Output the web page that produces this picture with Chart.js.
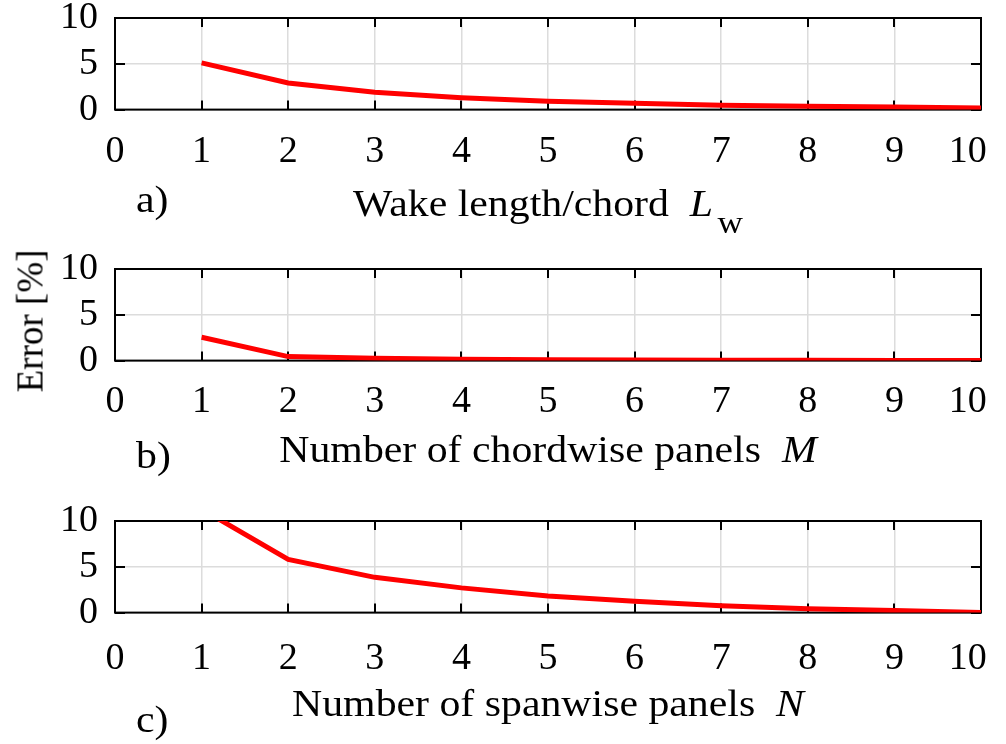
<!DOCTYPE html>
<html>
<head>
<meta charset="utf-8">
<title>Convergence of error</title>
<script src="https://cdn.jsdelivr.net/npm/chart.js@4.4.1/dist/chart.umd.min.js"></script>
<style>
  html, body { margin: 0; padding: 0; background: #fff; overflow: hidden; }
  body { width: 1006px; height: 744px; position: relative; }
  .panel { position: absolute; left: 0; width: 1006px; height: 252px; }
  #ylabel {
    position: absolute; left: 30px; top: 321px;
    transform: translate(-50%, -50%) rotate(-90deg);
    font: 37px 'Liberation Serif', 'Times New Roman', serif;
    white-space: nowrap; color: #000;
  }
</style>
</head>
<body>
<div class="panel" style="top:-6px"><canvas id="chart-a" width="1006" height="252"></canvas></div>
<div class="panel" style="top:245px"><canvas id="chart-b" width="1006" height="252"></canvas></div>
<div class="panel" style="top:497px"><canvas id="chart-c" width="1006" height="252"></canvas></div>
<div id="ylabel">Error [%]</div>
<script>
// tick labels shared by all three panels
const xTicks = [0, 1, 2, 3, 4, 5, 6, 7, 8, 9, 10];
const yTicks = [0, 5, 10];

// a) wake length / chord
const wakeLength = [1, 2, 3, 4, 5, 6, 7, 8, 9, 10];
const wakeError = [5.1, 2.9, 1.9, 1.3, 0.9, 0.68, 0.47, 0.36, 0.28, 0.17];

// b) chordwise panels
const chordPanels = [1, 2, 3, 4, 5, 6, 7, 8, 9, 10];
const chordError = [2.55, 0.44, 0.25, 0.15, 0.1, 0.07, 0.05, 0.03, 0.02, 0.01];

// c) spanwise panels (first point sits above the axis limit)
const spanPanels = [1, 2, 3, 4, 5, 6, 7, 8, 9, 10];
const spanError = [11.3, 5.8, 3.85, 2.7, 1.8, 1.25, 0.75, 0.42, 0.22, 0.0];

const FONT = "'Liberation Serif', 'Times New Roman', serif";
const CANVAS_H = 252;
const PLOT_TOP = 24;
const PLOT_H = 91.6;

// box outline, inward tick marks, axis caption and panel letter
const framePlugin = {
  id: 'frame',
  beforeDatasetsDraw(chart) {
    const { ctx, chartArea: a, scales: { x, y } } = chart;
    ctx.save();
    ctx.strokeStyle = '#000';
    ctx.lineWidth = 2;
    ctx.beginPath();
    x.ticks.forEach(t => {
      const px = Math.round(x.getPixelForValue(t.value));
      ctx.moveTo(px, a.top); ctx.lineTo(px, a.top + 9);
      ctx.moveTo(px, a.bottom); ctx.lineTo(px, a.bottom - 9);
    });
    y.ticks.forEach(t => {
      const py = Math.round(y.getPixelForValue(t.value));
      ctx.moveTo(a.left, py); ctx.lineTo(a.left + 10, py);
      ctx.moveTo(a.right, py); ctx.lineTo(a.right - 10, py);
    });
    ctx.stroke();
    ctx.strokeRect(a.left, a.top, a.right - a.left, a.bottom - a.top);
    ctx.restore();
  },
  afterDraw(chart, args, opts) {
    const { ctx, chartArea: a } = chart;
    const stretch = 1.1;
    ctx.save();
    ctx.fillStyle = '#000';
    ctx.textBaseline = 'alphabetic';

    // measure the caption pieces first so the whole line can be centred
    const pieces = opts.parts.map(p => {
      ctx.font = (p.italic ? 'italic ' : '') + (p.sub ? '32px ' : '38px ') + FONT;
      return { ...p, font: ctx.font, w: ctx.measureText(p.text).width + (p.sub ? 4 : 0) };
    });
    const total = pieces.reduce((s, p) => s + p.w, 0) * stretch;
    const cx = (a.left + a.right) / 2;
    const base = a.bottom + opts.titleOffset;
    ctx.translate(cx - total / 2, base);
    ctx.scale(stretch, 1);
    let dx = 0;
    pieces.forEach(p => {
      ctx.font = p.font;
      ctx.fillText(p.text, dx + (p.sub ? 4 : 0), p.sub ? 17 : 0);
      dx += p.w;
    });
    ctx.restore();

    ctx.save();
    ctx.fillStyle = '#000';
    ctx.font = '38px ' + FONT;
    ctx.translate(136, a.bottom + opts.letterOffset);
    ctx.scale(stretch, 1);
    ctx.fillText(opts.letter, 0, 0);
    ctx.restore();
  }
};

function makeChart(id, xs, ys, caption) {
  const points = xs.map((v, i) => ({ x: v, y: ys[i] }));
  return new Chart(document.getElementById(id), {
    type: 'line',
    data: {
      datasets: [{
        data: points,
        borderColor: '#ff0000',
        borderWidth: 5,
        pointRadius: 0,
        tension: 0,
        fill: false
      }]
    },
    options: {
      responsive: false,
      animation: false,
      events: [],
      layout: { padding: { top: PLOT_TOP, right: 25, left: 0, bottom: 0 } },
      plugins: {
        legend: { display: false },
        tooltip: { enabled: false },
        frame: caption
      },
      scales: {
        x: {
          type: 'linear',
          min: 0,
          max: 10,
          afterBuildTicks: s => { s.ticks = xTicks.map(v => ({ value: v })); },
          afterFit: s => {
            s.height = CANVAS_H - PLOT_TOP - PLOT_H;
            s.paddingLeft = 0;
            s.paddingRight = 0;
          },
          grid: { color: '#dcdcdc', lineWidth: 1.5, drawTicks: false },
          border: { display: false },
          ticks: {
            color: '#000',
            padding: caption.tickPad,
            autoSkip: false,
            maxRotation: 0,
            // keep the last label inside the figure edge
            callback: (v, i, ticks) => i === ticks.length - 1 ? v + '\u2002\u2009' : String(v),
            font: { family: FONT, size: 38, lineHeight: 1 }
          }
        },
        y: {
          type: 'linear',
          min: 0,
          max: 10,
          afterBuildTicks: s => { s.ticks = yTicks.map(v => ({ value: v })); },
          afterFit: s => {
            s.width = 115;
            s.paddingTop = 0;
            s.paddingBottom = 0;
          },
          grid: { color: '#dcdcdc', lineWidth: 1.5, drawTicks: false },
          border: { display: false },
          ticks: {
            color: '#000',
            padding: 17,
            autoSkip: false,
            font: { family: FONT, size: 38, lineHeight: 1 }
          }
        }
      }
    },
    plugins: [framePlugin]
  });
}

makeChart('chart-a', wakeLength, wakeError, {
  parts: [{ text: 'Wake length/chord  ' }, { text: 'L', italic: true }, { text: 'w', sub: true }],
  letter: 'a)', titleOffset: 106, letterOffset: 102, tickPad: 23
});
makeChart('chart-b', chordPanels, chordError, {
  parts: [{ text: 'Number of chordwise panels  ' }, { text: 'M', italic: true }],
  letter: 'b)', titleOffset: 101, letterOffset: 107, tickPad: 22
});
makeChart('chart-c', spanPanels, spanError, {
  parts: [{ text: 'Number of spanwise panels  ' }, { text: 'N', italic: true }],
  letter: 'c)', titleOffset: 103, letterOffset: 119, tickPad: 27
});
</script>
</body>
</html>
